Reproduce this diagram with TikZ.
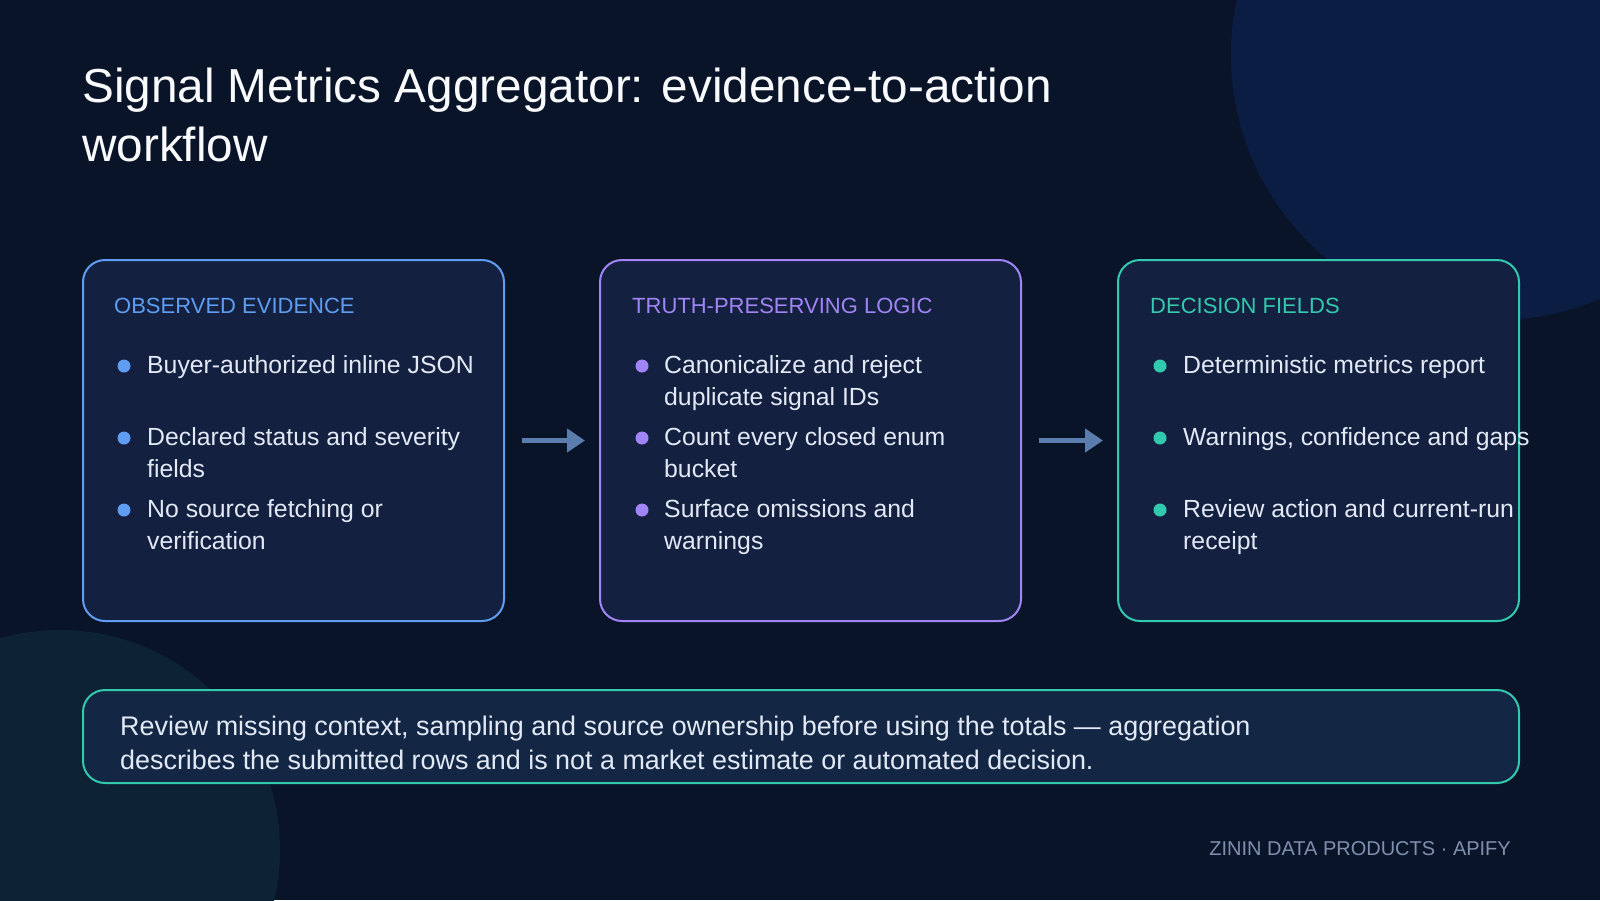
\documentclass[tikz,border=0pt]{standalone}
\usepackage{fontspec}
\setmainfont{Liberation Sans}
\usetikzlibrary{arrows.meta}
\definecolor{bgc}{HTML}{0A1429}
\definecolor{circA}{HTML}{0C1D44}
\definecolor{circB}{HTML}{0D2233}
\definecolor{boxfill}{HTML}{13203F}
\definecolor{notefill}{HTML}{132745}
\definecolor{blueC}{HTML}{5E9DF2}
\definecolor{purpC}{HTML}{A184F5}
\definecolor{tealC}{HTML}{33C9AE}
\definecolor{bodyC}{HTML}{E2E9F5}
\definecolor{titleC}{HTML}{F8FAFC}
\definecolor{arrC}{HTML}{5A7DAE}
\definecolor{footC}{HTML}{7F90AE}
\newcommand{\mlines}[1]{\begin{tabular}[t]{@{}l@{}}#1\end{tabular}}
\tikzset{
  card/.style={draw=#1, line width=2pt, fill=boxfill, rounded corners=22pt, inner sep=0pt, anchor=north west, minimum height=361pt},
  head/.style={text=#1, inner sep=0pt, anchor=base west, font=\fontsize{22}{26}\selectfont},
  item/.style={text=bodyC, inner sep=0pt, anchor=base west, font=\fontsize{24.8}{32}\selectfont},
  dotmark/.style={fill=#1, circle, inner sep=0pt, minimum size=13pt},
  flow/.style={draw=arrC, line width=5pt, -{Triangle[length=18pt, width=23pt]}},
}
\begin{document}
\begin{tikzpicture}[x=1pt, y=-1pt]
\useasboundingbox (0,0) rectangle (1600,900);
\fill[bgc] (0,0) rectangle (1600,900);
\begin{scope}
\clip (0,0) rectangle (1600,900);
\fill[circA] (1496,55) circle[radius=265pt];
\fill[circB] (60,850) circle[radius=220pt];
\end{scope}

% title
\node[text=titleC, inner sep=0pt, anchor=base west, font=\fontsize{47.7}{59}\selectfont] (title) at (82,102)
  {\mlines{Signal Metrics Aggregator: evidence-to-action\\workflow}};

% cards
\node[card=blueC, minimum width=421pt] (b1) at (82,259) {};
\node[card=purpC, minimum width=421pt] (b2) at (599,259) {};
\node[card=tealC, minimum width=401pt] (b3) at (1117,259) {};

% card 1
\node[head=blueC] (h1) at (114,313) {OBSERVED EVIDENCE};
\node[dotmark=blueC] (d11) at (124,366) {};
\node[item] (t11) at (147,373) {\mlines{Buyer-authorized inline JSON}};
\node[dotmark=blueC] (d12) at (124,438) {};
\node[item] (t12) at (147,445) {\mlines{Declared status and severity\\fields}};
\node[dotmark=blueC] (d13) at (124,510) {};
\node[item] (t13) at (147,517) {\mlines{No source fetching or\\verification}};

% card 2
\node[head=purpC] (h2) at (632,313) {TRUTH-PRESERVING LOGIC};
\node[dotmark=purpC] (d21) at (642,366) {};
\node[item] (t21) at (664,373) {\mlines{Canonicalize and reject\\duplicate signal IDs}};
\node[dotmark=purpC] (d22) at (642,438) {};
\node[item] (t22) at (664,445) {\mlines{Count every closed enum\\bucket}};
\node[dotmark=purpC] (d23) at (642,510) {};
\node[item] (t23) at (664,517) {\mlines{Surface omissions and\\warnings}};

% card 3
\node[head=tealC] (h3) at (1150,313) {DECISION FIELDS};
\node[dotmark=tealC] (d31) at (1160,366) {};
\node[item] (t31) at (1183,373) {\mlines{Deterministic metrics report}};
\node[dotmark=tealC] (d32) at (1160,438) {};
\node[item] (t32) at (1183,445) {\mlines{Warnings, confidence and gaps}};
\node[dotmark=tealC] (d33) at (1160,510) {};
\node[item] (t33) at (1183,517) {\mlines{Review action and current-run\\receipt}};

% arrows
\draw[flow] ([xshift=17pt]b1.east) -- ([xshift=-14pt]b2.west);
\draw[flow] ([xshift=17pt]b2.east) -- ([xshift=-14pt]b3.west);

% note
\node[draw=tealC, line width=2pt, fill=notefill, rounded corners=22pt, inner sep=0pt, anchor=north west,
      minimum width=1436pt, minimum height=93pt] (note) at (82,689) {};
\node[text=bodyC, inner sep=0pt, anchor=base west, font=\fontsize{26.9}{34}\selectfont] (notetext) at (120,735)
  {\mlines{Review missing context, sampling and source ownership before using the totals — aggregation\\describes the submitted rows and is not a market estimate or automated decision.}};

% footer
\node[text=footC, inner sep=0pt, anchor=base east, font=\fontsize{20}{24}\selectfont] (foot) at (1511,855)
  {ZININ DATA PRODUCTS · APIFY};
\end{tikzpicture}
\end{document}
